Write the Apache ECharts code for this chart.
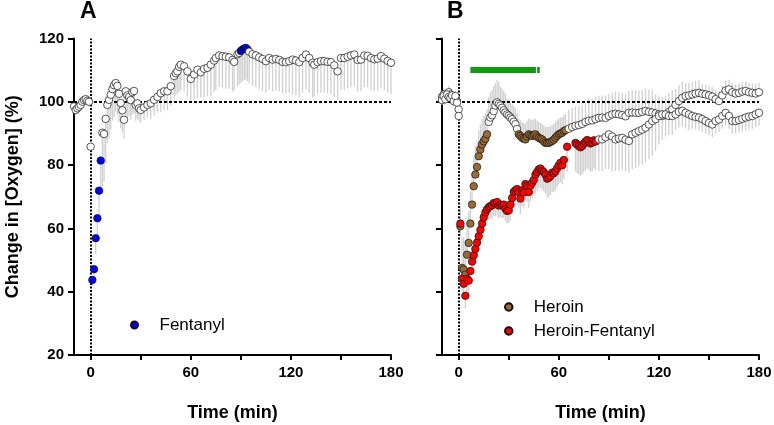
<!DOCTYPE html>
<html><head><meta charset="utf-8">
<script src="https://cdn.jsdelivr.net/npm/echarts@6/dist/echarts.min.js"></script>
<style>html,body{margin:0;padding:0;background:#fff}#c{width:774px;height:425px}</style>
</head><body><div id="c"></div>
<script>
// ---- tick / label values ----
const xTickValues = [0, 30, 60, 90, 120, 150, 180];
const xLabelValues = [0, 60, 120, 180];
const panelTitles = ['A', 'B'];
const yTitle = 'Change in [Oxygen] (%)';
const xTitle = 'Time (min)';

// ---- data rows: [time (min), value (%), SEM, significant (1/0)] ----
// Panel A: Fentanyl (error bars drawn downward)
const fentanyl = [
[-10,98.5,1.5,0],[-9,97.4,1.5,0],[-8,97.9,1.5,0],[-7,98.4,1.5,0],[-6,99.0,1.5,0],[-5,100.0,1.5,0],[-4,100.5,1.5,0],[-3,100.8,1.5,0],[-2,100.3,1.5,0],[-1,100.0,1.5,0],
[0,85.8,3,0],[1,43.7,2,1],[2,47.1,3,1],[3,56.9,5,1],[4,63.2,6,1],[5,71.9,8,1],[6,81.4,9,1],
[7,90.2,17,0],[8,89.8,15,0],[9,94.6,14,0],[10,99.0,12,0],[11,100.6,12,0],[12,102.2,11,0],[13,104.0,10,0],[14,105.2,10,0],[15,105.9,9,0],[16,105.0,9,0],[17,102.5,9,0],[18,99.6,8,0],[19,97.3,7,0],[20,94.3,6,0],[21,103.3,8,0],[22,102.0,7,0],[23,101.5,6,0],[24,100.5,6,0],[25,103.0,7,0],[26,103.4,7,0],[27,99.0,5,0],[28,99.5,5,0],[29,97.9,4,0],[30,97.4,4,0],
[32,98.2,4,0],[34,99.0,4,0],[36,99.5,5,0],[38,100.6,5,0],[40,101.5,5,0],[42,102.7,6,0],[44,103.3,6,0],[46,103.3,6,0],[48,104.9,6,0],[50,108.1,7,0],[51,109.0,7,0],[52,109.6,7,0],[53,111.0,8,0],[54,111.7,8,0],[56,111.2,8,0],[58,109.6,8,0],[60,107.2,7,0],[62,108.6,8,0],[64,110.1,9,0],[66,109.3,8,0],[68,110.4,9,0],[70,110.7,9,0],[72,111.7,10,0],[74,113.0,10,0],[75,113.8,10,0],[77,114.6,10,0],[79,114.4,10,0],[81,114.2,10,0],[83,114.0,10,0],[85,113.2,10,0],[86,112.6,9,0],[88,115.0,10,0],[89,115.4,10,0],
[90,116.0,10,1],[91,116.5,10,1],[92,116.8,10,1],[93,117.0,10,1],[94,116.5,10,1],
[95,115.8,10,0],[97,115.0,10,0],[99,114.6,10,0],[101,114.0,10,0],[103,113.5,10,0],[105,112.8,10,0],[107,113.8,10,0],[109,113.3,10,0],[111,113.5,10,0],[113,113.2,10,0],[115,112.6,10,0],[117,112.5,10,0],[119,112.8,10,0],[121,113.3,11,0],[123,113.0,11,0],[125,112.5,11,0],[127,113.8,11,0],[129,114.9,11,0],[131,113.8,11,0],[133,112.3,11,0],[134,111.7,10,0],[136,112.5,10,0],[138,112.8,10,0],[140,112.8,10,0],[142,112.6,10,0],[144,112.5,10,0],[146,111.5,10,0],[148,109.6,9,0],[150,113.8,10,0],[152,113.8,10,0],[154,114.2,10,0],[156,114.6,10,0],[158,114.9,10,0],[160,113.2,10,0],[162,113.3,10,0],[164,114.6,10,0],[166,114.5,10,0],[168,113.8,10,0],[170,113.4,10,0],[172,113.6,10,0],[174,114.4,10,0],[176,113.6,10,0],[178,112.9,10,0],[180,112.3,10,0]
];

// Panel B: Heroin (error bars drawn upward)
const heroin = [
[-10,101.5,2,0],[-9,102.3,2,0],[-8,101.2,2,0],[-7,102.0,2,0],[-6,103.0,2,0],[-5,102.3,2,0],[-4,101.2,2,0],[-3,100.5,2,0],[-2,101.5,2,0],[-1,100.2,2,0],[0,97.6,3,0],
[1,60.7,6,1],[2,47.5,10,1],[3,47.0,10,1],[4,45.4,10,1],[5,51.7,10,1],[6,55.4,10,1],[7,61.5,10,1],[8,67.5,10,1],[9,73.3,9,1],[10,77.0,9,1],[11,79.4,8,1],[12,82.8,8,1],[13,84.9,8,1],[14,86.5,8,1],[15,87.5,8,1],[16,88.3,8,1],[17,89.7,8,1],
[18,93.6,8,0],[19,95.0,8,0],[20,95.7,8,0],[21,97.0,8,0],[22,98.8,7,0],[23,99.8,7,0],[24,99.3,7,0],[25,98.8,6,0],[26,98.1,6,0],[27,97.3,6,0],[28,96.6,6,0],[29,96.0,5,0],[30,95.6,5,0],[31,95.0,5,0],[32,94.5,5,0],[33,93.7,5,0],[34,92.9,5,0],[35,91.4,5,0],
[36,89.7,5,1],[37,89.2,5,1],[38,88.6,5,1],[39,88.3,5,1],[40,88.1,5,1],[41,89.0,5,1],[42,89.7,5,1],[43,89.4,5,1],[44,89.2,5,1],[45,89.5,5,1],[46,89.7,5,1],[47,89.0,5,1],[48,88.6,5,1],[49,88.3,5,1],[50,88.1,5,1],[51,87.5,5,1],[52,87.0,5,1],[53,87.0,5,1],[54,87.0,5,1],[55,87.3,5,1],[56,87.6,5,1],[57,88.0,5,1],[58,88.6,5,1],[59,89.2,5,1],[60,89.7,5,1],[61,90.0,5,1],[62,90.2,5,1],[63,90.7,5,1],[64,91.0,5,1],
[66,91.5,6,0],[68,92.0,6,0],[70,92.4,6,0],[72,92.6,6,0],[74,93.0,6,0],[76,93.6,6,0],[78,94.0,7,0],[80,94.1,7,0],[82,94.5,7,0],[84,94.9,7,0],[86,95.0,7,0],[88,94.9,7,0],[90,95.5,7,0],[92,96.0,7,0],[94,96.2,7,0],[96,96.0,7,0],[98,95.8,7,0],[100,95.4,7,0],[102,96.5,7,0],[104,96.6,7,0],[106,96.5,7,0],[108,96.5,7,0],[110,96.8,7,0],[112,97.1,7,0],[114,96.8,7,0],[116,96.6,7,0],[118,96.3,6,0],[120,96.0,6,0],[122,95.5,6,0],[124,95.8,6,0],[126,96.8,6,0],[128,97.6,6,0],[130,99.0,5,0],[132,100.2,5,0],[134,101.2,5,0],[136,101.8,4,0],[138,102.0,4,0],[140,102.3,4,0],[142,102.6,4,0],[144,102.8,4,0],[146,102.5,3,0],[148,102.3,3,0],[150,102.0,3,0],[152,101.6,3,0],[154,100.8,3,0],[156,100.2,3,0],[158,102.0,3,0],[160,103.5,3,0],[162,103.9,3,0],[164,103.0,3,0],[166,102.6,3,0],[168,102.8,3,0],[170,103.2,3,0],[172,103.4,3,0],[174,103.0,3,0],[176,102.8,3,0],[178,102.6,3,0],[180,103.0,3,0]
];

// Panel B: Heroin-Fentanyl (error bars drawn downward)
const heroinFentanyl = [
[-10,100.5,1.5,0],[-9,101.8,1.5,0],[-8,100.8,1.5,0],[-7,102.3,1.5,0],[-6,101.5,1.5,0],[-5,101.2,1.5,0],[-4,102.0,1.5,0],[-3,100.2,1.5,0],[-2,101.8,1.5,0],[-1,99.7,1.5,0],[0,95.5,2,0],
[1,61.5,4,1],[2,44.1,4,1],[3,42.5,4,1],[4,38.7,4,1],[5,44.0,4,1],[6,43.5,4,1],[7,46.5,4,1],[8,49.5,4,1],[9,51.5,4,1],[10,53.5,4,1],[11,55.5,4,1],[12,57.5,4,1],[13,59.5,4,1],[14,61.5,4,1],[15,63.5,4,1],[16,65.0,4,1],[17,66.0,4,1],[18,66.7,4,1],[19,67.0,4,1],[20,67.3,4,1],[21,68.0,4,1],[22,67.8,4,1],[23,68.3,4,1],[24,67.2,4,1],[25,67.5,4,1],[26,67.2,4,1],[27,67.5,4,1],[28,66.2,4,1],[29,65.5,4,1],[30,65.7,4,1],[31,67.5,5,1],[32,69.6,5,1],[33,71.5,5,1],[34,72.0,5,1],[35,72.4,5,1],[36,71.5,5,1],[37,69.4,5,1],[38,72.0,5,1],[39,71.3,5,1],[40,74.0,5,1],[41,73.4,5,1],[42,71.5,5,1],[43,73.5,5,1],[44,74.4,5,1],[45,75.3,5,1],[46,77.0,6,1],[47,77.8,6,1],[48,78.6,6,1],[49,78.9,6,1],[50,78.2,6,1],[51,77.8,6,1],[52,77.0,6,1],[53,75.7,6,1],[54,76.0,6,1],[55,76.5,6,1],[56,77.6,6,1],[57,77.4,6,1],[58,78.0,6,1],[59,79.0,6,1],[60,79.9,6,1],[61,80.7,6,1],[62,79.9,6,1],[63,81.6,6,1],[65,85.8,8,1],[70,87.0,9,1],[71,86.5,9,1],[72,86.0,9,1],[73,85.6,9,1],[74,86.0,9,1],[75,86.8,9,1],[76,87.4,9,1],[77,87.9,9,1],[78,87.5,9,1],[79,86.8,9,1],[80,87.1,9,1],[81,87.8,9,1],[82,87.4,9,1],
[84,88.1,10,0],[86,88.1,10,0],[88,88.8,10,0],[90,89.7,11,0],[92,89.0,11,0],[94,88.1,10,0],[96,88.4,10,0],[98,88.6,10,0],[100,88.0,10,0],[102,87.6,10,0],[104,89.7,11,0],[106,90.2,11,0],[108,90.7,11,0],[110,91.2,11,0],[112,91.8,11,0],[114,92.8,11,0],[116,93.9,11,0],[118,94.5,10,0],[120,95.5,9,0],[122,96.0,8,0],[124,96.0,7,0],[126,95.5,6,0],[128,95.5,6,0],[130,96.0,5,0],[132,96.8,5,0],[134,97.1,5,0],[136,96.5,5,0],[138,96.0,5,0],[140,95.5,4,0],[142,95.2,4,0],[144,95.0,4,0],[146,94.5,4,0],[148,93.9,4,0],[150,93.3,4,0],[152,92.8,4,0],[154,93.9,4,0],[156,94.4,4,0],[158,95.5,4,0],[160,96.5,4,0],[162,95.5,4,0],[164,93.9,4,0],[166,93.9,4,0],[168,94.2,4,0],[170,94.6,4,0],[172,95.0,4,0],[174,95.3,4,0],[176,95.5,4,0],[178,96.0,4,0],[180,96.5,4,0]
];

// treatment bar (panel B): [start, end] in min at level 110 %
const treatmentBar = [[7, 110], [46.3, 110]];
const treatmentTick = [[47, 110], [48.6, 110]];
const baselineValue = 100;
const injectionTime = 0;

// ---- styling / building ----
const FONT = '"Liberation Sans", Arial, Helvetica, sans-serif';
const COLORS = { fent: '#0000ff', her: '#9c6a34', hf: '#ff0000', green: '#0a9f0a', err: '#d0d0d0' };

function scatterSeries(name, rows, color, xi) {
  return {
    name, type: 'scatter', xAxisIndex: xi, yAxisIndex: xi, z: 5,
    symbol: 'circle', symbolSize: 7.5,
    itemStyle: { color, borderColor: '#111', borderWidth: 0.7, opacity: 1 },
    data: rows.map(d => ({ value: [d[0], d[1]], itemStyle: { color: d[3] ? color : '#ffffff' } }))
  };
}
function errSeries(rows, dir, xi) {
  return {
    type: 'custom', xAxisIndex: xi, yAxisIndex: xi, z: 1, silent: true,
    data: rows.map(d => [d[0], d[1], d[2]]),
    encode: { x: 0, y: 1 },
    renderItem: (p, api) => {
      const t = api.value(0), v = api.value(1), e = api.value(2);
      const a = api.coord([t, v]), b = api.coord([t, v + dir * e]);
      return { type: 'line', shape: { x1: a[0], y1: a[1], x2: b[0], y2: b[1] }, style: { stroke: COLORS.err, lineWidth: 1.3 } };
    }
  };
}
function refSeries(xi) {
  return {
    type: 'line', xAxisIndex: xi, yAxisIndex: xi, z: 3, data: [], silent: true,
    markLine: {
      symbol: ['none', 'none'], silent: true, label: { show: false }, animation: false,
      data: [
        { xAxis: injectionTime, lineStyle: { type: [2, 1.5], width: 2, color: '#000' } },
        { yAxis: baselineValue, lineStyle: { type: [3, 2], width: 2, color: '#000' } }
      ]
    }
  };
}
function xAxisCfg(gi) {
  return {
    gridIndex: gi, type: 'value', min: -10, max: 180,
    axisLine: { show: true, onZero: false, lineStyle: { color: '#000', width: 2 } },
    axisTick: { show: true, customValues: xTickValues, length: 5, lineStyle: { color: '#000', width: 2 } },
    axisLabel: { customValues: xLabelValues, color: '#000', fontWeight: 'bold', fontSize: 15, fontFamily: FONT, margin: 10 },
    splitLine: { show: false },
    name: xTitle, nameLocation: 'middle', nameGap: 49,
    nameTextStyle: { color: '#000', fontWeight: 'bold', fontSize: 18, fontFamily: FONT }
  };
}
function yAxisCfg(gi, showLabels) {
  const c = {
    gridIndex: gi, type: 'value', min: 20, max: 120, interval: 20,
    axisLine: { show: true, onZero: false, lineStyle: { color: '#000', width: 2 } },
    axisTick: { show: true, length: 6, lineStyle: { color: '#000', width: 2 } },
    axisLabel: { show: showLabels, color: '#000', fontWeight: 'bold', fontSize: 15, fontFamily: FONT, margin: 10 },
    splitLine: { show: false }
  };
  if (showLabels) {
    c.name = yTitle; c.nameLocation = 'middle'; c.nameGap = 52;
    c.nameTextStyle = { color: '#000', fontWeight: 'bold', fontSize: 18, fontFamily: FONT };
  }
  return c;
}

const chart = echarts.init(document.getElementById('c'), null, { renderer: 'canvas' });
chart.setOption({
  animation: false,
  backgroundColor: '#fff',
  title: [
    { text: panelTitles[0], left: 80, top: 0, padding: 0, textStyle: { fontSize: 23, fontWeight: 'bold', color: '#000', fontFamily: FONT } },
    { text: panelTitles[1], left: 447, top: 0, padding: 0, textStyle: { fontSize: 23, fontWeight: 'bold', color: '#000', fontFamily: FONT } }
  ],
  grid: [
    { left: 74, top: 38.4, width: 317, height: 316.6, outerBoundsMode: 'none', containLabel: false },
    { left: 442, top: 38.4, width: 317, height: 316.6, outerBoundsMode: 'none', containLabel: false }
  ],
  xAxis: [xAxisCfg(0), xAxisCfg(1)],
  yAxis: [yAxisCfg(0, true), yAxisCfg(1, false)],
  legend: [
    { data: ['Fentanyl'], left: 130, top: 316.5, orient: 'vertical', padding: 0, itemWidth: 40, itemHeight: 7, itemGap: 7,
      textStyle: { fontSize: 17, color: '#000', fontFamily: FONT } },
    { data: ['Heroin', 'Heroin-Fentanyl'], left: 504, top: 298.5, orient: 'vertical', padding: 0, itemWidth: 40, itemHeight: 7.5, itemGap: 7,
      textStyle: { fontSize: 17, color: '#000', fontFamily: FONT } }
  ],
  series: [
    errSeries(fentanyl, -1, 0),
    refSeries(0),
    scatterSeries('Fentanyl', fentanyl, COLORS.fent, 0),
    errSeries(heroin, 1, 1),
    errSeries(heroinFentanyl, -1, 1),
    refSeries(1),
    { type: 'line', xAxisIndex: 1, yAxisIndex: 1, z: 4, symbol: 'none', silent: true, data: treatmentBar, lineStyle: { color: COLORS.green, width: 6, cap: 'butt' } },
    { type: 'line', xAxisIndex: 1, yAxisIndex: 1, z: 4, symbol: 'none', silent: true, data: treatmentTick, lineStyle: { color: COLORS.green, width: 6, cap: 'butt' } },
    scatterSeries('Heroin', heroin, COLORS.her, 1),
    scatterSeries('Heroin-Fentanyl', heroinFentanyl, COLORS.hf, 1)
  ]
});
</script>
</body></html>
